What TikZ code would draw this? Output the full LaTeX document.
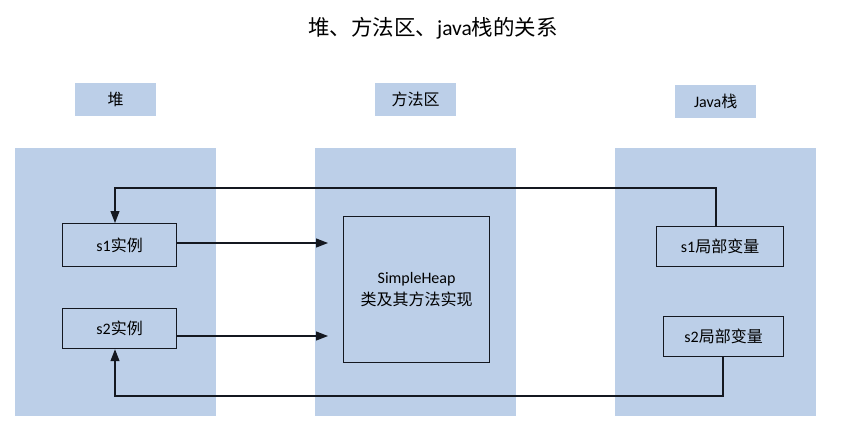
\documentclass[tikz,border=0pt]{standalone}
\usepackage{fontspec}
\setmainfont{Carlito}
\newfontfamily\cjk{Noto Sans CJK SC}
\usetikzlibrary{arrows.meta}
\definecolor{colblue}{RGB}{188,207,232}
\definecolor{lineclr}{RGB}{20,24,32}
\begin{document}
\begin{tikzpicture}[x=1pt,y=-1pt,
  column/.style={fill=colblue,draw=none,minimum width=201pt,minimum height=268pt,anchor=north west,inner sep=0},
  header/.style={fill=colblue,draw=none,minimum width=81pt,minimum height=33pt,anchor=north west,inner sep=0,font=\fontsize{16}{18}\selectfont},
  item/.style={fill=colblue,draw=lineclr,line width=1.2pt,anchor=north west,inner sep=0,font=\fontsize{16}{22}\selectfont},
  conn/.style={draw=lineclr,line width=1.2pt},
  arr/.style={conn,-{Triangle[length=12pt,width=9pt]}}]
\useasboundingbox (0,0) rectangle (866,424);
\fill[white] (0,0) rectangle (866,424);
\node[font=\fontsize{21.5}{24}\selectfont] (title) at (433,28) {{\cjk 堆、方法区、}java{\cjk 栈的关系}};
\node[header] (hHeap) at (75,83) {\cjk 堆};
\node[header] (hMethod) at (375,83) {\cjk 方法区};
\node[header] (hStack) at (675,85) {Java{\cjk 栈}};
\node[column] (cHeap) at (15,148) {};
\node[column] (cMethod) at (315,148) {};
\node[column] (cStack) at (615,148) {};
\node[item,minimum width=114pt,minimum height=43pt] (s1) at (62,223) {s1{\cjk 实例}};
\node[item,minimum width=114pt,minimum height=40pt] (s2) at (62,308) {s2{\cjk 实例}};
\node[item,minimum width=146pt,minimum height=146pt,align=center] (cls) at (343,216) {SimpleHeap\\{\cjk 类及其方法实现}};
\node[item,minimum width=127pt,minimum height=40pt] (v1) at (656,226) {s1{\cjk 局部变量}};
\node[item,minimum width=120pt,minimum height=40pt] (v2) at (663,316) {s2{\cjk 局部变量}};
\coordinate (a1) at (328,243);
\coordinate (a2) at (328,336);
\draw[arr] (s1.east |- a1) -- (a1);
\draw[arr] (s2.east |- a2) -- (a2);
\draw[arr] (v1.north -| 716,0) -- (716,188) -- (115,188) -- (s1.north -| 115,0);
\draw[arr] (v2.south -| 723,0) -- (723,396) -- (115,396) -- (s2.south -| 115,0);
\end{tikzpicture}
\end{document}
